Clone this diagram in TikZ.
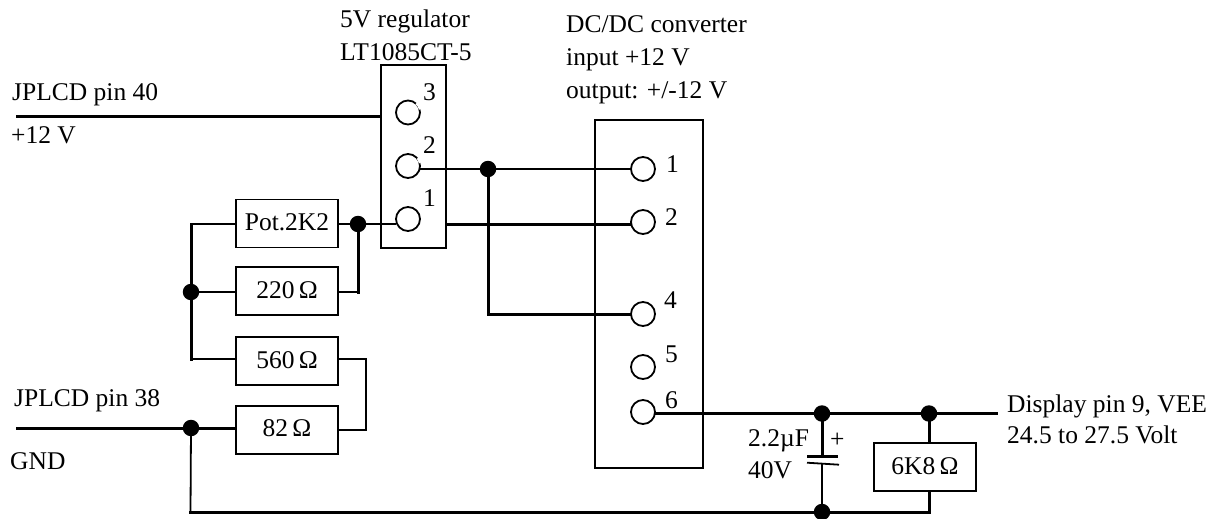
\documentclass[tikz,border=0pt]{standalone}
\usepackage{fontspec}
\setmainfont{Liberation Serif}
\tikzset{
  x=1pt,y=-1pt,
  lab/.style={anchor=base west,inner sep=0pt,font=\fontsize{25.5}{30}\selectfont},
  box/.style={draw,line width=1.8pt,minimum width=102pt,minimum height=48pt,inner sep=0pt,font=\fontsize{25.5}{30}\selectfont,text height=14pt,text depth=0pt},
  case/.style={draw,line width=1.8pt,inner sep=0pt,anchor=north west},
  pin/.style={circle,draw,line width=1.8pt,fill=white,minimum size=24pt,inner sep=0pt},
  dotj/.style={circle,fill=black,minimum size=16.5pt,inner sep=0pt},
  thin wire/.style={line width=1.8pt,line cap=rect},
  thick wire/.style={line width=3pt,line cap=rect},
  gapmark/.style={white,line width=3pt},
}
\begin{document}
\begin{tikzpicture}
\useasboundingbox (0,0) rectangle (1215,519);
% cases
\node[case,minimum width=65pt,minimum height=183pt] (reg) at (380,64) {};
\node[case,minimum width=108pt,minimum height=348pt] (conv) at (594,119) {};
% resistors
\node[box] (pot) at (287,223.5) {Pot.2K2\hspace{8pt}};
\node[box] (r220) at (287,291.3) {220\,Ω\hspace{4pt}};
\node[box] (r560) at (287,361.3) {560\,Ω\hspace{4pt}};
\node[box] (r82) at (287,429.6) {82\,Ω\hspace{4pt}};
\node[box] (r6k8) at (925,467) {6K8\,Ω\hspace{4pt}};
% pins
\node[pin] (p3) at (408,112.5) {};
\node[pin] (p2) at (408,166) {};
\node[pin] (p1) at (408,219) {};
\node[pin] (c1) at (643,169) {};
\node[pin] (c2) at (643,222) {};
\node[pin] (c4) at (643,314) {};
\node[pin] (c5) at (643,367) {};
\node[pin] (c6) at (643,412) {};
% open part of pins 3 and 2
\draw[gapmark] (p3.15) arc[start angle=15,end angle=50,radius=12pt];
\draw[gapmark] (p2.15) arc[start angle=15,end angle=40,radius=12pt];
% junctions
\node[dotj] (jA) at (488,169) {};
\node[dotj] (jB) at (358,224) {};
\node[dotj] (jC) at (191,292) {};
\node[dotj] (jD) at (191,428) {};
\node[dotj] (jE) at (822,413.5) {};
\node[dotj] (jF) at (929,413.5) {};
\node[dotj] (jG) at (822,512) {};
% free ends
\coordinate (in12) at (17,116.5);
\coordinate (ingnd) at (17,428);
\coordinate (vee) at (996,413.5);
\coordinate (capt) at (822,456);
\coordinate (capb) at (822,465);
\coordinate (capAl) at (807,456);
\coordinate (capAr) at (838,456);
\coordinate (capBl) at (807,462.7);
\coordinate (capBr) at (839,464.7);
\coordinate (lt) at (191,224);
\coordinate (lb) at (191,359);
\coordinate (rr) at (366,359);
\coordinate (bl) at (190.5,512);
\coordinate (br) at (929,512);
\coordinate (jog) at (488,314);
% wires
\draw[thick wire] (in12) -- (in12 -| reg.west);
\draw[thin wire] (p2.east |- jA) -- (jA);
\draw[thin wire] (jA) -- (c1.west |- jA);
\draw[thick wire] (reg.east |- jB) -- (c2.west |- jB);
\draw[thick wire] (jA) -- (jog) -- (c4.west);
\draw[thin wire] (pot.east |- jB) -- (jB);
\draw[thin wire] (jB) -- (p1.west |- jB);
\draw[thick wire] (jB) -- (jB |- jC);
\draw[thin wire] (jB |- jC) -- (r220.east |- jC);
\draw[thin wire] (lt) -- (pot.west |- lt);
\draw[thick wire] (lt) -- (jC);
\draw[thick wire] (jC) -- (lb);
\draw[thin wire] (jC) -- (r220.west |- jC);
\draw[thin wire] (lb) -- (r560.west |- lb);
\draw[thin wire] (r560.east |- rr) -- (rr) -- (rr |- r82.east) -- (r82.east);
\draw[thick wire] (ingnd) -- (jD) -- (r82.west |- jD);
\draw[thin wire] (jD) -- (bl);
\draw[thick wire] (bl) -- (jG) -- (br) -- (r6k8.south -| br);
\draw[thick wire] (c6.east |- jE) -- (jE) -- (jF) -- (vee);
\draw[thick wire] (jF) -- (jF |- r6k8.north);
\draw[thick wire] (jE) -- (capt);
\draw[thin wire] (capb) -- (jG);
\draw[line width=3pt] (capAl) -- (capAr);
\draw[line width=1.8pt] (capBl) -- (capBr);
% labels
\node[lab] (t1) at (340,28) {5V regulator};
\node[lab] (t2) at (340,60) {LT1085CT-5};
\node[lab] (t3) at (566,33) {DC/DC converter};
\node[lab] (t4) at (566,66) {input +12 V};
\node[lab] (t5) at (566,98) {output: +/-12 V};
\node[lab] (t6) at (12,100) {JPLCD pin 40};
\node[lab] (t7) at (11,143) {+12 V};
\node[lab] (t8) at (14,406) {JPLCD pin 38};
\node[lab] (t9) at (10,469) {GND};
\node[lab] (t10) at (1007,412) {Display pin 9, VEE};
\node[lab] (t11) at (1007,443) {24.5 to 27.5 Volt};
\node[lab] (t12) at (748,446) {2.2µF};
\node[lab] (t13) at (748,478) {40V};
\node[lab] (t14) at (830,447) {+};
\node[lab] (n3) at (423,100) {3};
\node[lab] (n2) at (423,153) {2};
\node[lab] (n1) at (423,206) {1};
\node[lab] (m1) at (666,172) {1};
\node[lab] (m2) at (665,225.5) {2};
\node[lab] (m4) at (664,308) {4};
\node[lab] (m5) at (665,362) {5};
\node[lab] (m6) at (665,408) {6};
\end{tikzpicture}
\end{document}
